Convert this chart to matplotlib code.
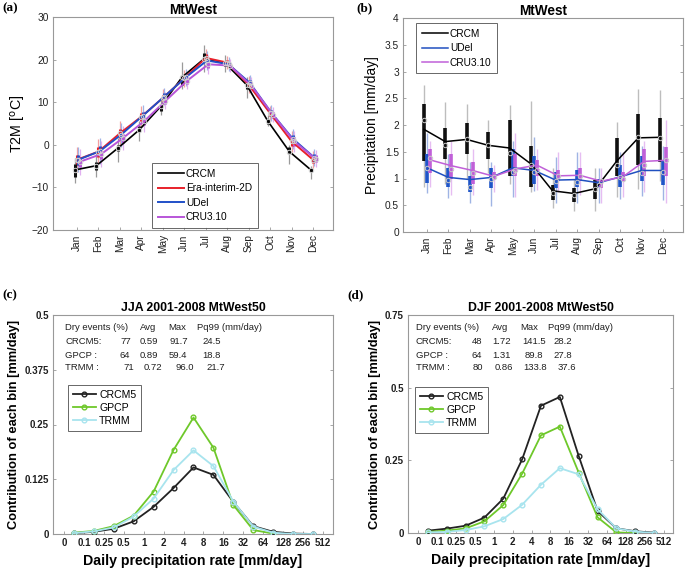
import matplotlib
matplotlib.use("Agg")
import matplotlib.pyplot as plt
import numpy as np

plt.rcParams['font.family'] = ['Liberation Sans', 'DejaVu Sans']

months = ['Jan', 'Feb', 'Mar', 'Apr', 'May', 'Jun', 'Jul', 'Aug', 'Sep', 'Oct', 'Nov', 'Dec']

# ---- Panel (a): T2M [°C]
crcm_t = [-5.9, -4.9, -0.8, 3.5, 9.0, 15.9, 20.1, 19.2, 14.1, 5.5, -1.6, -5.9]
crcm_t_box_lo = [-7.5, -6.0, -1.5, 3.0, 8.0, 14.0, 20.0, 18.5, 13.0, 5.0, -2.0, -6.5]
crcm_t_box_hi = [-4.5, -4.0, 0.0, 4.5, 9.5, 16.0, 21.5, 19.5, 14.5, 6.0, -0.5, -5.5]
crcm_t_wh_lo = [-9.0, -7.5, -4.0, 1.0, 7.0, 13.0, 17.0, 17.0, 11.0, 4.5, -4.5, -8.0]
crcm_t_wh_hi = [-3.0, -2.0, 1.5, 5.5, 11.0, 19.5, 23.5, 21.0, 16.0, 7.0, 0.0, -5.0]
era_t = [-3.5, -1.6, 2.7, 6.6, 11.0, 15.6, 20.4, 19.3, 14.1, 7.4, 0.8, -3.5]
udel_t = [-3.5, -1.5, 2.4, 6.8, 11.3, 15.8, 19.8, 18.9, 14.5, 7.5, 1.4, -3.0]
cru_t = [-4.0, -2.2, 1.5, 5.5, 10.3, 15.0, 18.9, 18.6, 13.9, 7.1, 0.8, -3.3]
obs_t_spread = [3.0, 3.0, 2.8, 2.5, 2.0, 2.0, 2.2, 1.6, 2.0, 1.8, 2.4, 2.0]
obs_t_box = [1.2, 1.2, 1.0, 0.9, 0.8, 0.8, 0.8, 0.6, 0.8, 0.7, 1.0, 0.8]

# ---- Panel (b): Precipitation [mm/day]
crcm_p = [1.92, 1.69, 1.73, 1.62, 1.57, 1.27, 0.77, 0.72, 0.81, 1.33, 1.76, 1.77]
crcm_p_med = [2.10, 1.63, 1.73, 1.62, 1.47, 1.25, 0.73, 0.69, 0.80, 1.25, 1.77, 1.76]
crcm_p_box_lo = [1.33, 1.37, 1.45, 1.37, 1.05, 0.85, 0.60, 0.57, 0.62, 1.05, 1.25, 1.30]
crcm_p_box_hi = [2.40, 1.95, 2.03, 1.87, 2.10, 1.60, 0.88, 0.82, 0.97, 1.76, 2.20, 2.13]
crcm_p_wh_lo = [0.85, 0.90, 1.00, 1.10, 0.90, 0.75, 0.45, 0.40, 0.40, 0.65, 0.80, 0.95]
crcm_p_wh_hi = [2.75, 2.43, 2.40, 2.10, 2.38, 2.45, 1.20, 1.00, 1.20, 2.05, 2.68, 2.65]

udel_p = [1.20, 1.02, 0.98, 1.02, 1.20, 1.15, 0.97, 0.98, 0.92, 1.03, 1.15, 1.15]
udel_p_med = [1.20, 0.97, 0.85, 1.00, 1.13, 1.12, 0.96, 0.94, 0.87, 1.02, 1.10, 1.12]
udel_p_box_lo = [0.92, 0.85, 0.75, 0.82, 1.05, 0.90, 0.82, 0.85, 0.82, 0.85, 0.95, 0.87]
udel_p_box_hi = [1.45, 1.20, 1.05, 1.20, 1.55, 1.42, 1.13, 1.15, 1.00, 1.25, 1.42, 1.35]
udel_p_wh_lo = [0.72, 0.63, 0.55, 0.48, 0.65, 0.77, 0.55, 0.55, 0.55, 0.62, 0.68, 0.60]
udel_p_wh_hi = [1.85, 1.45, 1.30, 1.30, 1.70, 1.78, 1.40, 1.50, 1.20, 1.50, 1.60, 1.60]

cru_p = [1.35, 1.24, 1.15, 1.04, 1.18, 1.25, 1.05, 1.06, 0.95, 1.03, 1.32, 1.34]
cru_p_med = [1.38, 1.18, 1.10, 1.03, 1.15, 1.15, 1.05, 1.05, 0.95, 1.00, 1.25, 1.35]
cru_p_box_lo = [1.10, 1.00, 0.90, 0.98, 1.05, 1.05, 0.95, 0.95, 0.82, 0.95, 1.05, 1.05]
cru_p_box_hi = [1.55, 1.45, 1.30, 1.12, 1.45, 1.35, 1.15, 1.20, 1.00, 1.12, 1.55, 1.58]
cru_p_wh_lo = [0.85, 0.70, 0.70, 0.75, 0.65, 0.78, 0.75, 0.70, 0.55, 0.65, 0.75, 0.55]
cru_p_wh_hi = [1.70, 1.70, 1.55, 1.25, 1.85, 1.55, 1.50, 1.50, 1.20, 1.50, 1.70, 2.10]

# ---- Panels (c), (d): contribution of each bin
bin_labels = ['0', '0.1', '0.25', '0.5', '1', '2', '4', '8', '16', '32', '64', '128', '256', '512']
jja_crcm5 = [0.002, 0.005, 0.012, 0.029, 0.062, 0.105, 0.152, 0.135, 0.073, 0.018, 0.005, 0.001, 0.0]
jja_gpcp = [0.003, 0.007, 0.018, 0.042, 0.097, 0.192, 0.266, 0.197, 0.066, 0.009, 0.001]
jja_trmm = [0.002, 0.006, 0.015, 0.040, 0.081, 0.146, 0.191, 0.155, 0.074, 0.017, 0.003, 0.0, 0.0]
djf_crcm5 = [0.008, 0.015, 0.025, 0.053, 0.118, 0.253, 0.438, 0.468, 0.265, 0.076, 0.016, 0.006, 0.001]
djf_gpcp = [0.004, 0.008, 0.016, 0.040, 0.096, 0.204, 0.336, 0.366, 0.208, 0.054, 0.002, 0.0]
djf_trmm = [0.002, 0.004, 0.010, 0.023, 0.048, 0.097, 0.166, 0.223, 0.202, 0.082, 0.016, 0.005, 0.0]

jja_table = [["Dry events (%)", "", "Avg", "Max", "Pq99 (mm/day)"],
             ["CRCM5:", "77", "0.59", "91.7", "24.5"],
             ["GPCP :", "64", "0.89", "59.4", "18.8"],
             ["TRMM :", "71", "0.72", "96.0", "21.7"]]
djf_table = [["Dry events (%)", "", "Avg", "Max", "Pq99 (mm/day)"],
             ["CRCM5:", "48", "1.72", "141.5", "28.2"],
             ["GPCP :", "64", "1.31", "89.8", "27.8"],
             ["TRMM :", "80", "0.86", "133.8", "37.6"]]

W, H = 685, 572
fig = plt.figure(figsize=(W / 100, H / 100), dpi=100)


def px_axes(l, t, r, b):
    return fig.add_axes([l / W, 1 - b / H, (r - l) / W, (b - t) / H])


FRAME = '#999999'


def style(ax, ls=7.3):
    for s in ax.spines.values():
        s.set_color(FRAME)
        s.set_linewidth(0.8)
    ax.tick_params(direction='in', length=2.5, width=0.6, color=FRAME,
                   right=True, top=False, labelsize=ls, pad=3, labelcolor='#202020')


# ---------------- (a)
axa = px_axes(53, 17, 333, 230)
style(axa)
x = np.arange(1, 13)
grey_w, grey_b = '#9a9a9a', '#101010'
series_a = [
    (era_t, '#e8202a', '#f4a0a0', 0.0, 'Era-interim-2D'),
    (udel_t, '#2050c8', '#a0b4e8', 0.06, 'UDel'),
    (cru_t, '#b855d8', '#e0b0f0', 0.12, 'CRU3.10'),
]
for vals, col, lcol, off, lab in series_a:
    v = np.array(vals)
    sp = np.array(obs_t_spread)
    bx = np.array(obs_t_box)
    axa.vlines(x + off, v - sp, v + sp, color=lcol, lw=0.9, zorder=2)
    axa.vlines(x + off, v - bx, v + bx, color=col, lw=2.2, zorder=3)
axa.vlines(x - 0.1, crcm_t_wh_lo, crcm_t_wh_hi, color=grey_w, lw=0.9, zorder=2)
axa.vlines(x - 0.1, crcm_t_box_lo, crcm_t_box_hi, color=grey_b, lw=2.2, zorder=3)
axa.plot(x - 0.1, crcm_t, color='black', lw=1.2, zorder=4, label='CRCM')
for vals, col, lcol, off, lab in series_a:
    axa.plot(x + off, vals, color=col, lw=1.4, zorder=4, label=lab)
    axa.plot(x + off, vals, ls='none', marker='o', ms=3.2, mfc='none', mec='#cfcfcf', mew=0.7, zorder=5)
axa.plot(x - 0.1, crcm_t, ls='none', marker='o', ms=3.2, mfc='none', mec='#cfcfcf', mew=0.7, zorder=5)
axa.set_xlim(-0.12, 12.93)
axa.set_ylim(-20, 30)
axa.set_yticks([-20, -10, 0, 10, 20, 30])
axa.set_xticks(x)
axa.set_xticklabels(months, rotation=90)
axa.set_ylabel('T2M [$^{\\rm o}$C]', fontsize=10.3, labelpad=3)
axa.set_title('MtWest', fontsize=9.8, fontweight='bold', pad=2)
lega = axa.legend(loc='lower left', bbox_to_anchor=((152 - 53) / 280, (230 - 228) / 213),
                  borderaxespad=0, fontsize=7.3, frameon=True, fancybox=False, edgecolor='#404040',
                  handlelength=2.6, borderpad=0.55, labelspacing=0.45, handletextpad=0.2)
lega.get_frame().set_linewidth(0.7)

# ---------------- (b)
axb = px_axes(403, 18, 683, 232)
style(axb)
series_b = [
    (crcm_p, crcm_p_med, crcm_p_box_lo, crcm_p_box_hi, crcm_p_wh_lo, crcm_p_wh_hi, 'black', '#101010', '#bdbdbd', -0.15, 'CRCM'),
    (udel_p, udel_p_med, udel_p_box_lo, udel_p_box_hi, udel_p_wh_lo, udel_p_wh_hi, '#2050c0', '#1f55c8', '#9fb4e4', 0.0, 'UDel'),
    (cru_p, cru_p_med, cru_p_box_lo, cru_p_box_hi, cru_p_wh_lo, cru_p_wh_hi, '#c060d8', '#c060d8', '#e6bdf2', 0.12, 'CRU3.10'),
]
for mean, med, blo, bhi, wlo, whi, lc, bc, wc, off, lab in series_b:
    axb.vlines(x + off, wlo, whi, color=wc, lw=1.0, zorder=2)
    axb.vlines(x + off, blo, bhi, color=bc, lw=2.6, zorder=3)
for mean, med, blo, bhi, wlo, whi, lc, bc, wc, off, lab in series_b:
    axb.plot(x + off, mean, color=lc, lw=1.1, zorder=4, label=lab)
    axb.plot(x + off, med, ls='none', marker='o', ms=3.2, mfc='none', mec='#c8c8c8', mew=0.7, zorder=5)
axb.set_xlim(-0.12, 12.93)
axb.set_ylim(0, 4)
axb.set_yticks(np.arange(0, 4.01, 0.5))
axb.set_yticklabels(['0', '0.5', '1', '1.5', '2', '2.5', '3', '3.5', '4'])
axb.set_xticks(x)
axb.set_xticklabels(months, rotation=90)
axb.set_ylabel('Precipitation [mm/day]', fontsize=10, labelpad=4)
axb.set_title('MtWest', fontsize=9.8, fontweight='bold', pad=2)
legb = axb.legend(loc='upper left', bbox_to_anchor=((416 - 403) / 280, (232 - 23) / 214),
                  borderaxespad=0, fontsize=7.3, frameon=True, fancybox=False, edgecolor='#404040',
                  handlelength=2.6, borderpad=0.55, labelspacing=0.45, handletextpad=0.2)
legb.get_frame().set_linewidth(0.7)


# ---------------- (c) / (d)
def contrib_panel(box, title, crcm5, gpcp, trmm, ymax, yticks, yticklabels, table, cols_px, rows_px, leg_px):
    l, t, r, b = box
    ax = px_axes(l, t, r, b)
    style(ax, ls=7.0)
    for vals, col, lab in [(crcm5, '#222222', 'CRCM5'), (gpcp, '#6ec82a', 'GPCP'), (trmm, '#a8e4ee', 'TRMM')]:
        xs = np.arange(len(vals)) + 0.5
        ax.plot(xs, vals, color=col, lw=1.3, marker='o', ms=3.4, mfc='none', mec=col, mew=1.0,
                label=lab, zorder=3)
    ax.set_xlim(-0.55, 13.5)
    ax.set_ylim(0, ymax)
    ax.set_xticks(np.arange(len(bin_labels)))
    ax.set_xticklabels(bin_labels, fontweight='bold')
    ax.set_yticks(yticks)
    ax.set_yticklabels(yticklabels, fontweight='bold')
    ax.set_xlabel('Daily precipitation rate [mm/day]', fontsize=10.2, fontweight='bold', labelpad=4)
    ax.set_ylabel('Contribution of each bin [mm/day]', fontsize=9.3, fontweight='bold', labelpad=3)
    ax.set_title(title, fontsize=8.8, fontweight='bold', pad=3)
    for ri, row in enumerate(table):
        for ci, cell in enumerate(row):
            if not cell:
                continue
            ax.text((cols_px[ri][ci] - l) / (r - l), (b - rows_px[ri]) / (b - t), cell,
                    transform=ax.transAxes, fontsize=6.8, ha='left', va='center', color='#202020')
    lx, ly = leg_px
    leg = ax.legend(loc='upper left', bbox_to_anchor=((lx - l) / (r - l), (b - ly) / (b - t)),
                    borderaxespad=0, fontsize=7.6, frameon=True, fancybox=False, edgecolor='#404040',
                    handlelength=2.2, borderpad=0.45, labelspacing=0.3, handletextpad=0.3)
    leg.get_frame().set_linewidth(0.7)
    return ax


jja_cols = [[65, 0, 140, 168, 197],
            [65, 120, 140, 169, 202],
            [65, 120, 140, 169, 202],
            [65, 123, 144, 175, 206]]
djf_cols = [[416, 0, 492, 520, 548],
            [416, 472, 492, 522, 553],
            [416, 472, 492, 525, 553],
            [416, 473, 495, 523, 558]]
rows = [328, 342, 355, 368]

contrib_panel((53, 315, 333, 534), 'JJA 2001-2008 MtWest50', jja_crcm5, jja_gpcp, jja_trmm,
              0.5, [0, 0.125, 0.25, 0.375, 0.5], ['0', '0.125', '0.25', '0.375', '0.5'],
              jja_table, jja_cols, rows, (68, 385))
contrib_panel((408, 315, 673, 533), 'DJF 2001-2008 MtWest50', djf_crcm5, djf_gpcp, djf_trmm,
              0.75, [0, 0.25, 0.5, 0.75], ['0', '0.25', '0.5', '0.75'],
              djf_table, djf_cols, rows, (415, 387))

for txt, px, py in [('(a)', 2, 8), ('(b)', 356, 8), ('(c)', 2, 295), ('(d)', 347, 295)]:
    fig.text(px / W, 1 - py / H, txt, fontsize=9.5, fontweight='bold',
             family=['Liberation Serif', 'DejaVu Serif'], ha='left', va='center')

fig.savefig('out.png', dpi=100)
